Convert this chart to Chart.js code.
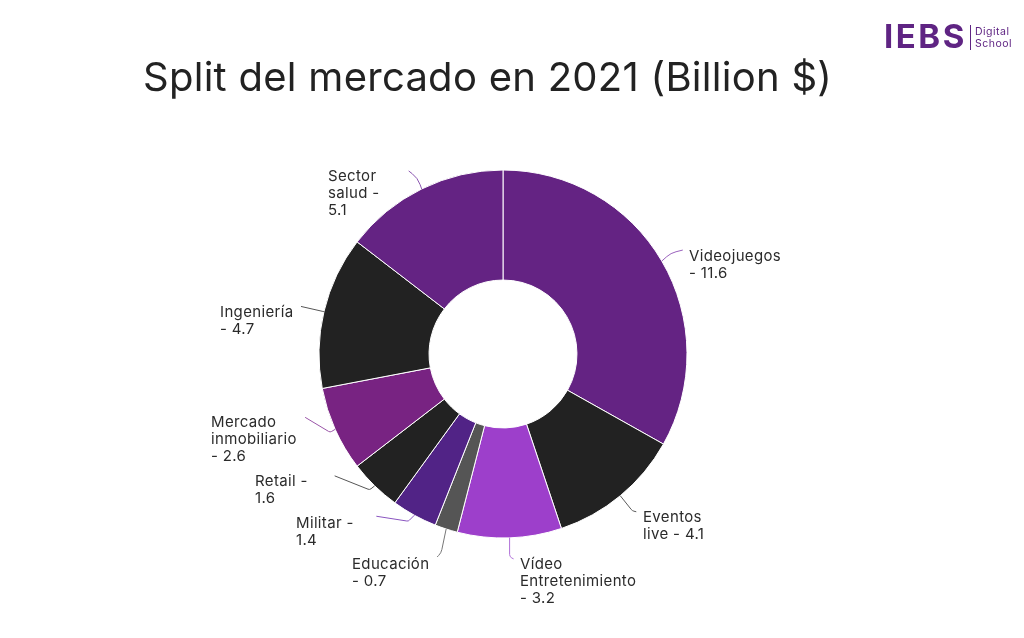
<!DOCTYPE html>
<html lang="es">
<head>
<meta charset="utf-8">
<title>Split del mercado en 2021</title>
<script src="https://cdn.jsdelivr.net/npm/chart.js@4"></script>
<style>
html,body{margin:0;padding:0;background:#fff;overflow:hidden}
#wrap{position:absolute;left:0;top:0;width:1024px;height:638px}
</style>
</head>
<body>
<div id="wrap"><canvas id="c" width="1024" height="638"></canvas></div>
<script>
const titleText = 'Split del mercado en 2021 (Billion $)';
const categories = ['Videojuegos','Eventos live','Vídeo Entretenimiento','Educación','Militar','Retail','Mercado inmobiliario','Ingeniería','Sector salud'];
const values = [11.6,4.1,3.2,0.7,1.4,1.6,2.6,4.7,5.1];
const colors = ['#642383','#222222','#9d3fcb','#555555','#512386','#222222','#782382','#222222','#642383'];
const lineColors = ['#9a62bd','#5a5a5a','#b070d8','#777777','#8a55c0','#555555','#9a55a8','#555555','#8a55b0'];
const labelLines = [
  ['Videojuegos','- 11.6'],
  ['Eventos','live - 4.1'],
  ['Vídeo','Entretenimiento','- 3.2'],
  ['Educación','- 0.7'],
  ['Militar -','1.4'],
  ['Retail -','1.6'],
  ['Mercado','inmobiliario','- 2.6'],
  ['Ingeniería','- 4.7'],
  ['Sector','salud -','5.1']
];
const labelPos = [[689,256],[643,517],[520,564],[352,564],[296,523],[255,481],[211,422],[220,312],[328,176]];
// leader: corner offset and end offset from the wedge's outer midpoint, corner radius
const leaders = [
  [[9,-8],[21,-11],22],[[12,15],[16,16],5],[[0,19],[4,21],4],[[-5,24],[-9,28],12],
  [[-6,6],[-38,1],3],[[-5,4],[-40,-10],3],[[-5,3],[-30,-12],3],[[-1,0],[-23,-5],1],[[-4,-11],[-13,-18],24]
];
const FONT = 'Inter, "Open Sans", sans-serif';

const annotate = {
  id:'annotate',
  afterDatasetsDraw(chart){
    const ctx = chart.ctx;
    const arcs = chart.getDatasetMeta(0).data;
    ctx.save();
    arcs.forEach((a,i)=>{
      const mid=(a.startAngle+a.endAngle)/2;
      const sx=a.x+Math.cos(mid)*a.outerRadius, sy=a.y+Math.sin(mid)*a.outerRadius;
      const [c,e,r]=leaders[i];
      ctx.beginPath();
      ctx.moveTo(sx,sy);
      ctx.arcTo(sx+c[0],sy+c[1],sx+e[0],sy+e[1],r);
      ctx.lineTo(sx+e[0],sy+e[1]);
      ctx.strokeStyle=lineColors[i];
      ctx.lineWidth=1;
      ctx.stroke();
    });
    ctx.fillStyle='#2b2b2b';
    ctx.textAlign='left';
    ctx.textBaseline='middle';
    ctx.font='400 15px '+FONT;
    ctx.letterSpacing='0.35px';
    labelLines.forEach((ls,i)=>{
      ls.forEach((t,j)=>ctx.fillText(t,labelPos[i][0],labelPos[i][1]+j*17.3));
    });
    ctx.letterSpacing='0.27px';
    ctx.font='400 40px '+FONT;
    ctx.fillStyle='#222222';
    ctx.fillText(titleText,143,79);
    ctx.letterSpacing='2.5px';
    ctx.font='700 33px '+FONT;
    ctx.fillStyle='#5f2483';
    ctx.fillText('IEBS',884,38);
    ctx.fillRect(970,25,1,25);
    ctx.letterSpacing='0.5px';
    ctx.font='400 10.5px '+FONT;
    ctx.fillText('Digital',975,32);
    ctx.fillText('School',975,44);
    ctx.restore();
  }
};

new Chart(document.getElementById('c'),{
  type:'doughnut',
  data:{labels:categories,datasets:[{data:values,backgroundColor:colors,borderColor:'#ffffff',borderWidth:1}]},
  options:{
    responsive:false,
    animation:false,
    radius:184,
    cutout:'40.2%',
    layout:{padding:{top:70,right:18,left:0,bottom:0}},
    plugins:{legend:{display:false},tooltip:{enabled:false}}
  },
  plugins:[annotate]
});
</script>
</body>
</html>
